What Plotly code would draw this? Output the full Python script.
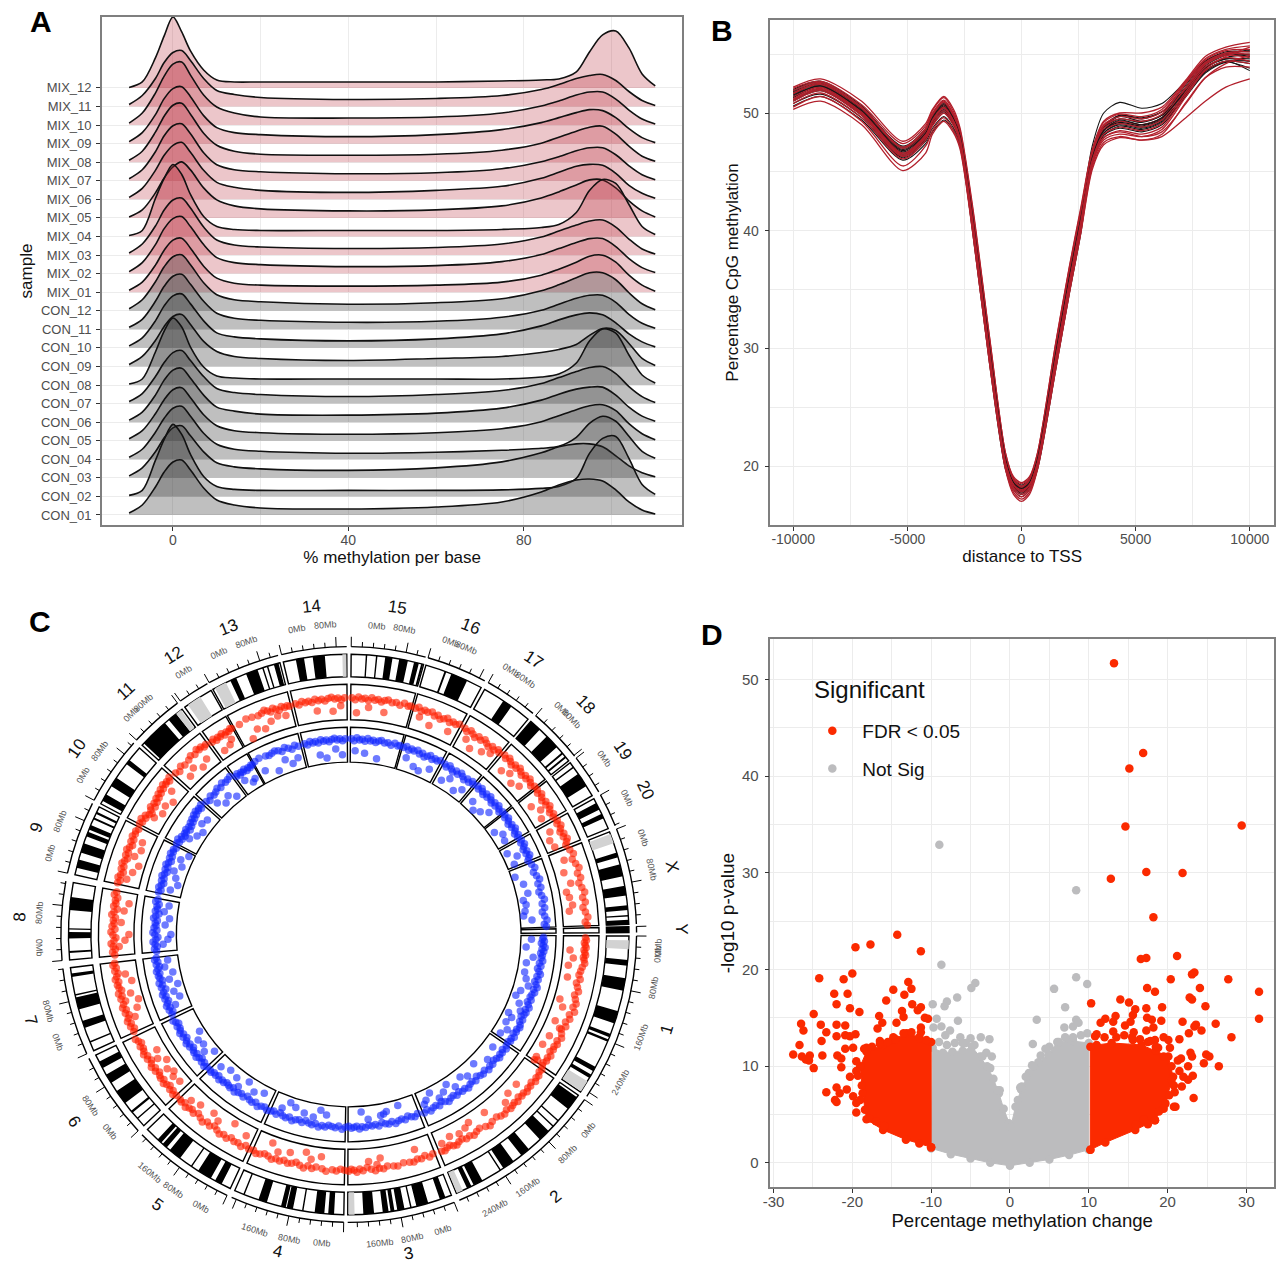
import math
import plotly.graph_objects as go

W, H = 1276, 1267
FONT = "Liberation Sans"

# ---------- Panel A: ridgeline ----------
samples = ["CON_01","CON_02","CON_03","CON_04","CON_05","CON_06","CON_07","CON_08","CON_09","CON_10","CON_11","CON_12",
           "MIX_01","MIX_02","MIX_03","MIX_04","MIX_05","MIX_06","MIX_07","MIX_08","MIX_09","MIX_10","MIX_11","MIX_12"]
ridge_x = [-10,-7,-4,-2,0,2,4,7,10,14,20,40,60,75,84,88,92,95,98,101,104,107,110]
ridge_density = [
 [2,10,28,43,53,55,45,27,15,10,7,6,8,13,23,30,35,36,34,25,13,5,1],
 [1,6,36,57,72,62,42,20,10,7,6,6,6,6.5,8,10,18,43,58,60,38,12,2],
 [2,10,26,40,50,52,42,26,15,11,9,7.5,10,16,25,31,34,34,31,22,12,5,1],
 [2,10,27,41,51,53,43,26,15,10,8,6,7,9,11,13,22,36,43,38,23,8,1],
 [2,10,27,41,51,53,43,26,15,10,8,6.5,8,12,19,25,31,35,36,30,17,7,1],
 [2,10,27,42,52,54,44,27,15,11,8,7,9,14,22,28,33,35,35,27,15,6,1],
 [2,10,27,41,51,53,43,27,15,11,9,7,9,13,20,26,32,36,37,30,17,7,1],
 [1,6,33,54,67,58,38,18,9,7,6,6,6,6,8,11,22,44,56,52,30,10,2],
 [2,10,26,40,50,52,42,25,15,10,8,6,8,10,14,17,22,31,38,36,23,8,1],
 [2,10,27,42,52,54,44,27,15,11,9,7,9,14,22,28,33,35,33,25,14,6,1],
 [2,10,28,43,53,55,45,28,16,11,9,7,8,12,19,25,31,34,34,27,15,6,1],
 [2,11,29,44,54,56,46,28,16,11,9,6.5,8,12,20,26,33,38,38,31,18,7,1],
 [2,10,27,42,52,54,44,26,14,9,7,6,7,10,17,23,30,36,37,30,17,7,1],
 [2,11,29,45,55,57,47,29,16,11,9,7,8,12,19,25,31,35,35,27,15,6,1],
 [2,11,29,45,55,57,47,28,15,10,8,6.5,7.5,11,18,24,30,34,35,28,16,6,1],
 [1,6,38,58,72,62,42,20,10,7,6,6,6,7,9,12,24,46,57,53,32,10,2],
 [1,8,25,40,51,56,48,30,18,12,9,7,8,12,20,26,33,38,38,30,17,7,1],
 [2,11,29,44,54,57,47,29,17,12,9,7,9,13,21,27,33,35,34,26,14,6,1],
 [2,11,29,45,55,57,47,28,16,11,9,7,8,12,19,24,30,33,33,26,15,6,1],
 [2,11,30,46,57,59,48,29,17,11,8,7,8,12,19,25,31,35,36,28,16,6,1],
 [2,11,29,45,55,57,47,28,16,11,9,7,9,14,21,26,31,34,33,26,15,6,1],
 [2,12,32,49,61,63,50,30,18,12,8,7,8,12,19,24,30,33,33,26,15,6,1],
 [2,11,28,44,54,56,46,28,16,12,9,7,8,11,17,22,28,31,32,26,15,6,1],
 [.5,6,30,52,71,56,37,18,8,6,6,6,6,7,8,9,16,36,53,57,40,14,2],
]
density_per_row = 18.57

# ---------- Panel B: TSS profile ----------
tss_x = [-10000,-8800,-7000,-5200,-4200,-3900,-3400,-3000,-2700,-2135,-1400,-700,-350,0,350,700,1500,2100,2600,3100,3600,4300,5270,6150,7200,8050,8950,10000]
tss_black = [
 [51.9,52.6,50.5,47.2,48.7,49.8,50.5,49.7,48.2,41.4,30.4,20.7,18.8,18.2,18.8,20.7,29.9,36.4,41.4,47.2,50,50.9,50.4,50.8,52.7,54.4,55.1,54.9],
 [51.7,52.5,50.3,46.9,48.4,49.4,50.3,49.4,47.9,41,30,20.5,18.6,18,18.6,20.5,29.5,36,41,46.3,48.7,49.7,49.3,49.8,52,53.9,54.6,54.4],
 [51.4,52.3,50.1,46.6,48.1,49.2,50.1,49.2,47.8,40.6,29.6,20.3,18.4,17.9,18.4,20.3,29.1,35.6,40.6,46.1,48.5,49.3,49,49.6,51.8,53.8,54.7,55],
 [51.1,52,49.9,46.4,47.9,49,50,49.1,47.7,40.4,29.4,20.1,18.3,17.8,18.3,20.1,28.9,35.4,40.4,46,48.3,49.1,48.8,49.4,51.6,53.6,54.4,54.2],
 [50.8,51.6,49.6,46.2,47.6,48.7,49.7,48.8,47.5,40.2,29.1,19.9,18.2,17.6,18.2,19.9,28.6,35.1,40.2,45.9,48.1,48.9,48.6,49.2,51.4,53.4,54.3,53.8],
 [50.6,51.4,49.4,46,47.4,48.4,49.4,48.6,47.3,39.8,28.7,19.7,18,17.4,18,19.7,28.2,34.7,39.8,46.4,48.8,49.8,49.6,50.1,52.2,54.2,55,55.3],
 [52,52.7,50.6,47.1,48.6,49.8,50.9,49.8,48.3,41.2,30.3,20.7,18.8,18.3,18.8,20.7,29.8,36.3,41.2,46.6,48.9,49.8,49.5,50.1,52.4,54.4,55.2,55.2],
 [51.6,52.4,50.2,46.7,48.2,49.5,50.6,49.5,48,41,30,20.5,18.6,18.1,18.6,20.5,29.5,36,41.1,46.4,48.7,49.5,49.2,49.8,52.2,54.2,55,54.8],
 [51.3,52.2,50,46.5,48,49.3,50.4,49.4,47.9,40.8,29.7,20.3,18.5,18,18.5,20.3,29.2,35.7,40.8,46.2,48.5,49.2,48.9,49.5,52,54,54.9,55.4],
 [51.8,52.5,50.4,47,48.5,49.7,50.8,49.7,48.2,41.2,30.3,20.7,18.9,18.4,18.9,20.7,29.8,36.3,41.2,46,48.3,49,48.7,49.3,51.7,53.6,54.4,53.6],
 [51,51.9,49.8,46.3,47.8,49.1,50.2,49.2,47.8,40.6,29.6,20.3,18.3,17.7,18.3,20.3,29.1,35.6,40.6,46.2,48.5,49.4,49,49.6,51.9,53.8,54.6,54.6],
 [51.5,52.3,50.2,46.8,48.3,49.6,50.7,49.6,48.1,41.1,30.1,20.6,18.6,18.1,18.6,20.6,29.6,36.1,41.1,45.8,48.1,48.7,48.4,49,51.5,53.5,54.4,54.4],
]
tss_red = [
 [52.2,52.9,51,47.6,49.1,50.3,51.4,50.4,48.8,42,31,21.1,19.1,18.6,19.1,21.1,30.5,37,42,46.9,49.3,50,50,50.5,52.8,54.8,55.6,56],
 [52.1,52.7,50.7,47.4,48.9,50.2,51.3,50.2,48.6,41.8,30.9,21.1,19,18.5,19,21.1,30.4,36.9,41.8,46.8,49.2,49.9,49.7,50.3,52.7,54.6,55.4,55.7],
 [51.9,52.6,50.5,47.1,48.7,50,51.1,50,48.4,41.6,30.7,20.9,18.9,18.3,18.9,20.9,30.2,36.7,41.6,46.6,49,49.7,49.5,50.1,52.6,54.5,55.3,55.4],
 [51.7,52.5,50.4,47,48.6,49.9,51,49.9,48.3,41.4,30.4,20.7,18.8,18.2,18.8,20.7,29.9,36.4,41.4,46.5,48.9,49.5,49.3,49.9,52.5,54.3,55.1,55.2],
 [51.6,52.4,50.2,46.8,48.4,49.8,50.9,49.8,48.2,41.1,30.1,20.6,18.6,18.1,18.6,20.6,29.6,36.1,41.1,46.4,48.7,49.3,49,49.6,52.2,54.2,55,55],
 [51.4,52.2,50.1,46.6,48.2,49.6,50.7,49.6,48,40.9,29.9,20.4,18.5,18,18.5,20.4,29.4,35.9,40.9,46.2,48.5,49.1,48.8,49.4,52,54.1,54.9,54.7],
 [51.2,52.1,50,46.5,48.1,49.4,50.5,49.4,47.9,40.6,29.6,20.3,18.4,17.8,18.4,20.3,29.1,35.6,40.6,46,48.2,48.8,48.5,49.1,51.8,53.9,54.7,54.4],
 [51,51.9,49.8,46.3,47.9,49.1,50.2,49.2,47.7,40.4,29.4,20.1,18.2,17.6,18.2,20.1,28.9,35.4,40.4,45.8,47.9,48.5,48.2,48.8,51.6,53.7,54.8,55.6],
 [50.8,51.7,49.6,46.1,47.7,48.9,50,49,47.5,40.2,29.1,19.9,18,17.4,18,19.9,28.6,35.1,40.2,45.6,47.7,48.2,48,48.6,51.4,53.6,54.4,54.2],
 [50.5,51.4,49.3,45.5,47.2,48.5,49.6,48.6,47.2,39.9,28.8,19.8,17.8,17.2,17.8,19.8,28.3,34.8,39.9,45.4,47.5,48,47.7,48.2,50.9,53,53.9,53.9],
 [50.3,51,49,45.1,46.6,48.2,49.3,48.4,47,39.8,28.7,19.7,17.6,17,17.6,19.7,28.2,34.7,39.8,45.2,47.3,47.9,47.7,48,49.6,51,52.2,52.9],
 [51.1,52,49.9,46.4,48,49.3,50.4,49.4,47.8,40.8,29.7,20.3,18.4,17.9,18.4,20.3,29.2,35.7,40.8,45.9,47.9,48.4,48,48.4,50.8,53,54.2,54.9],
]

# ---------- Panel C: circular genome plot (angles clockwise from east) ----------
chrom_names = ["1","2","3","4","5","6","7","8","9","10","11","12","13","14","15","16","17","18","19","20","X","Y"]
chrom_start = [0.3,35,68.5,91,115,137,155.5,174.8,192.3,207.8,222.5,234.2,241,256.5,270.5,286,299,310.5,322.2,331,338.5,358.4]
chrom_end = [34.2,67.4,90.2,114,135.9,154.5,173.2,190.7,207.1,221.7,233.5,240.6,255.8,269.6,285.5,298.2,309.8,321.7,330.3,337.8,357.9,359.6]
chrom_label_theta = [16.6,51.7,79.4,102.6,125.4,145.8,165,183,198.9,214.4,227.6,237.8,248.6,263.6,278.4,291.7,303.9,315.9,326.2,334,348.1,359]
chrom_label_r = [332,334,325,325,331,332,330,330,330,330,330,330,330,330,331,331,331,330,330,330,331,333]
black_start = [5.2,9,15.9,20.8,22,28.2,30,35.5,41.5,43,44.5,50,54,57.1,61.5,64,69.8,73.5,77,78.5,80.6,81.8,84.8,
               93,95,99.3,101.5,103,107,111.8,117,119.5,124,127,130.5,132,138.8,140.5,143,144.8,148,151.5,157.3,160.5,164.5,167.4,171.3,
               176.2,179.2,181,185,193.8,197,200.5,202,204.3,205.5,208.5,212,217.5,223,230,245,248.5,252,253,254.5,
               259.1,262.6,273.5,275.6,277.5,280.4,283.5,285,290,291.5,303.5,310.5,315,319.5,320.5,323.2,325,332,334.5,343,345.5,350,354,356,357,358.4]
black_end = [6.4,11.6,18.5,21.5,22.5,29.2,30.8,38.5,41.8,43.3,47,52,56.5,57.4,63.5,65,71,76,77.3,80,81.4,83,87,
             94.2,97,99.6,102.8,104,108.8,112.1,118.5,122.5,124.3,129.7,131.6,133,139.1,141,145,146,150,153,157.6,162,167,167.7,172,
             176.6,180.5,181.3,187.7,195.5,199,201.5,203,204.7,206,210,214,218.5,229,232,246.3,251,252.3,253.3,255.5,
             260.8,265.1,273.8,275.9,279,282.2,284.5,285.4,290.4,295,305.5,313,318,319.9,320.9,323.5,328,333.5,335.5,344,348,352,355,356.3,358,359.6]
gray_start = [1.2,31.6,66,88.8,232,235,241.5,268.7,339]
gray_end = [3,34,67.3,90,233.2,238,244,269.5,341]
axis_label_text = ["0Mb","0Mb","80Mb","160Mb","240Mb","0Mb","80Mb","160Mb","240Mb","0Mb","80Mb","160Mb","0Mb","80Mb","160Mb","0Mb","80Mb","160Mb",
                   "0Mb","80Mb","0Mb","80Mb","0Mb","80Mb","0Mb","80Mb","0Mb","80Mb","0Mb","80Mb","0Mb","0Mb","80Mb","0Mb","80Mb","0Mb","80Mb","0Mb","80Mb",
                   "0Mb","80Mb","0Mb","80Mb","0Mb","0Mb","0Mb","80Mb"]
axis_label_theta = [2.3,3.6,9.8,19.3,28.5,39.2,45,54.6,61.8,72.3,78.2,84.2,95,101,107.7,118.4,124.5,129.8,
                    140.4,146.4,159.6,165.6,177.5,184.1,195.3,201.4,211,216.4,225.4,228.4,237.8,245.3,250.7,260.3,265.7,275.2,280.3,289.3,292.4,
                    301.5,304.8,313.4,316,325.6,333.9,341.9,348]

red_theta = [.8,1.4,2,2.6,3.2,3.8,4.4,5,5.6,6.2,7,8,9,10,11,12,13,14,15,16,17,18,19,20,21,22,23,24,25,26,27,27.8,28.6,29.4,30.2,31,31.8,32.6,33.4,34.1,
 35,35.8,36.6,37.4,38.2,39,39.8,40.6,41.4,42.2,43,43.8,44.6,45.4,46.2,47,48,49,50,51,52.5,53.5,54.5,56,57,58,59,60,61,62,62.8,63.6,64.4,65.2,66,66.8,
 69,70,71,72,73,74,75,76.5,78,79,80.5,81.5,82.5,83.5,84.5,85.5,86.5,87.3,88,88.7,89.4,90,
 91,92,93,94,95.5,96.5,98,99,100,101,102,103,104,105,106,107,108,109,110,111,112,113,113.8,
 115,116,117,118,119,120,121,122,123,124,125,126,127,128,129,130,131,131.8,132.6,133.4,134.2,135,135.6,
 137,137.7,138.4,139.1,139.8,140.5,141.2,141.9,142.6,143.3,144,144.7,145.4,146.1,146.8,147.5,148.2,148.9,149.6,150.3,151,151.7,152.4,153.1,153.8,
 155.7,156.4,157.1,157.8,158.5,159.2,159.9,160.6,161.3,162,162.7,163.4,164.1,164.8,165.5,166.2,166.9,167.6,168.3,169,169.7,170.4,171.1,171.8,172.5,173,
 175,175.7,176.4,177.1,177.8,178.5,179.2,179.9,180.6,181.3,182,182.7,183.4,184.1,184.8,185.5,186.2,186.9,187.6,188.3,189,189.7,190.4,
 192.6,193.3,194,194.7,195.4,196.1,196.8,197.5,198.2,198.9,199.6,200.3,201,201.7,202.4,203.1,203.8,204.5,205.2,205.9,206.6,
 208,208.6,209.2,209.8,210.4,211,211.6,212.2,212.8,213.4,214,214.6,215.2,215.8,216.4,217,217.6,218.2,218.8,219.4,220,220.6,221.2,
 223,224,225,226,227.5,228.5,229.5,230.5,231,231.7,232.4,233,
 234.6,235.2,235.8,236.4,237,237.6,238.2,238.8,239.4,240,240.4,
 242.5,244.5,246,247.5,248.5,249.3,250,250.7,251.4,252.1,252.8,253.5,254.2,254.9,255.5,
 257,257.8,258.6,259.4,260.2,261,261.8,262.6,263.4,264.2,265,265.8,266.6,267.4,268.2,269,
 270.8,271.6,272.4,273.2,274,274.8,275.6,276.4,277.2,278,278.8,279.6,280.6,281.6,282.6,283.6,284.6,285.2,
 286.4,287.2,288,288.8,289.6,290.6,291.4,292.2,293,293.8,294.6,295.4,296.2,297,297.8,
 299.4,300.2,301,301.8,302.6,303.4,304.2,305,305.8,306.6,307.4,308.2,309,309.6,
 311,311.7,312.4,313.1,313.8,314.5,315.2,315.9,316.6,317.3,318,318.7,319.4,320.1,320.8,321.4,
 322.5,323.2,323.9,324.6,325.3,326,326.7,327.4,328.1,328.8,329.5,330.1,
 331.3,332,332.7,333.4,334.1,334.8,335.5,336.2,336.9,337.6,
 339,340.2,341.4,342.6,343.8,345,346.2,347.4,348.6,349.8,351,352.2,353.4,354.6,355.8,357,357.7,
 # inner scatter
 4,6,8,11,17,18.7,22.7,24,26.8,29.5,33,33.6,34,41.8,44.9,47,52.7,57.5,59,61,63.5,66,73,82,83,85,
 97,99.5,101,105,108,110,117,121,125,127,131,133.5,139,141,142,143.5,145.5,147,149,159,161,163,165,168,170,
 177,178.5,180,183,186,188,194,196,198,200,202,204,211,213,215,217,219,225,227,229,231,236,238,239,244,246,248,250,252,254,
 262,266,268,272,275,279,288,291,296,301,303,306,308,313,315,317,319,325,327,329,333,335,337,341,344,347,349,350.5,352.5,354]
red_r = [237,238,236,237,238,236,237,238,236,237,238,236,235,234,236,233,235,237,234,236,238,236,239,235,237,234,236,233,235,237,234,236,234,235,233,236,234,235,233,234,
 236,235,237,236,238,235,237,236,238,236,237,235,238,236,237,238,236,238,237,235,236,238,236,234,235,237,235,236,234,235,237,236,234,235,237,236,
 235,237,234,236,235,237,236,235,237,236,235,237,236,238,236,234,237,235,238,236,235,237,
 236,235,237,236,238,236,235,237,235,238,236,234,236,237,235,237,236,238,236,235,237,238,236,
 237,235,238,236,237,235,238,236,238,236,234,237,235,238,236,234,237,235,236,238,235,237,236,
 236,238,235,237,234,236,238,235,237,236,234,237,235,238,236,234,237,235,238,236,235,237,234,236,238,
 236,234,237,235,238,236,234,237,235,238,236,233,237,235,238,234,236,237,235,238,236,234,237,235,238,236,
 235,237,234,236,238,235,233,236,238,234,237,235,236,234,238,236,233,237,235,236,234,238,236,
 237,235,238,236,234,237,235,238,236,234,237,235,238,236,234,237,235,238,236,237,235,
 237,235,238,234,236,233,231,234,236,232,235,233,236,234,237,235,238,236,239,237,238,236,239,
 237,235,238,236,237,239,237,240,238,239,237,238,
 236,238,235,237,236,238,235,237,236,238,237,
 237,239,238,237,238,240,238,236,239,237,235,238,236,237,236,
 237,235,238,236,237,235,238,236,237,235,237,238,236,237,235,237,
 237,235,238,236,237,235,238,236,237,235,237,238,236,237,235,238,236,237,
 236,238,235,237,236,238,235,237,234,236,238,235,237,236,238,
 237,235,238,236,234,237,235,238,236,234,237,235,238,236,
 238,236,239,237,235,238,236,239,237,235,238,236,239,237,235,238,
 238,236,239,237,235,238,236,239,237,235,238,236,
 238,236,239,237,235,238,236,239,237,235,
 237,239,236,238,240,237,239,236,238,240,237,239,236,238,240,237,239,
 222,226,222,223,221,226,224,231,225,223,224,227,224,225,225,230,224,223,226,228,226,229,225,226,232,228,
 224,228,222,226,229,222,226,221,228,224,226,229,224,226,222,226,221,228,224,229,224,220,226,222,227,
 230,224,220,228,226,222,229,225,221,228,224,226,227,222,224,220,228,224,228,222,226,222,224,228,218,225,222,227,230,228,
 226,224,229,222,228,225,229,224,226,228,222,226,230,224,228,222,226,223,229,225,226,222,224,228,224,228,222,224,226,222]

blue_theta = [.8,1.4,2,2.6,3.2,3.8,4.4,5,5.6,6.2,7,7.8,8.6,9.4,10.2,11,11.8,12.6,13.4,14.2,15,15.8,16.6,17.4,18.2,19,19.8,20.6,21.4,22.2,23,23.8,24.6,25.4,26.2,27,27.8,28.6,29.4,30.2,31,31.8,32.6,33.4,34,
 35.2,36,36.8,37.6,38.4,39.2,40,41,42,43,44,45,46,47,48,49,50,51,52,53,54,55,56,57,58,59,60,61,62,63,64,65,66,67,
 69,70,71,72,73,74,75,76,77,78,79,80,81,82,83,84,85,86,86.8,87.6,88.4,89.2,90,
 91,92,93,94,95,96,97,98,99,100,101,102,103,104,105,106,107,108,109,110,111,112,113,113.8,
 115,116,117,118,119,120,121,122,123,124,125,126,127,127.8,128.6,129.4,130.2,131,131.8,132.6,133.4,134.2,135,135.6,
 137,137.7,138.4,139.1,139.8,140.5,141.2,141.9,142.6,143.3,144,144.7,145.4,146.1,146.8,147.5,148.2,148.9,149.6,150.3,151,151.7,152.4,153.1,153.8,
 155.7,156.4,157.1,157.8,158.5,159.2,159.9,160.6,161.3,162,162.7,163.4,164.1,164.8,165.5,166.2,166.9,167.6,168.3,169,169.7,170.4,171.1,171.8,172.5,173,
 175,175.7,176.4,177.1,177.8,178.5,179.2,179.9,180.6,181.3,182,182.7,183.4,184.1,184.8,185.5,186.2,186.9,187.6,188.3,189,189.7,190.4,
 192.6,193.3,194,194.7,195.4,196.1,196.8,197.5,198.2,198.9,199.6,200.3,201,201.7,202.4,203.1,203.8,204.5,205.2,205.9,206.6,
 208,208.6,209.2,209.8,210.4,211,211.6,212.2,212.8,213.4,214,214.6,215.2,215.8,216.4,217,217.6,218.2,218.8,219.4,220,220.6,221.2,
 223,224,225,226,227,228,229,230,231,232,233,
 234.6,235.2,235.8,236.4,237,237.6,238.2,238.8,239.4,240,240.4,
 241.5,243,245,246,247,248,249,250,251,252,253,254,255,
 257,257.8,258.6,259.4,260.2,261,261.8,262.6,263.4,264.2,265,265.8,266.6,267.4,268.2,269,
 270.8,271.6,272.4,273.2,274,274.8,275.6,276.4,277.2,278,278.8,279.6,280.6,281.6,282.6,283.6,284.6,285.2,
 286.4,287.2,288,288.8,289.6,290.6,291.4,292.2,293,293.8,294.6,295.4,296.2,297,297.8,
 299.4,300.2,301,301.8,302.6,303.4,304.2,305,305.8,306.6,307.4,308.2,309,309.6,
 311,311.7,312.4,313.1,313.8,314.5,315.2,315.9,316.6,317.3,318,318.7,319.4,320.1,320.8,321.4,
 322.5,323.2,323.9,324.6,325.3,326,326.7,327.4,328.1,328.8,329.5,330.1,
 331.3,332,332.7,333.4,334.1,334.8,335.5,336.2,336.9,337.6,
 339,340.2,341.4,342.6,343.8,345,346.2,347.4,348.6,349.8,351,352.2,353.4,354.6,355.8,357,357.7,
 # inner scatter
 1.5,4,7,9,12,14,16,18,20,22,24,26,27,29,31,33,38,42,46,50,52,55,57,59,61,63,65,66,74,78,79,80,84,86,
 97,99,101,104,107,109,111,118,121,124,126,128,131,134,139,141,143,145,147,158,160,162,164,166,168,170,172,
 177,178.5,180,183,185,187,189,194,196,198,200,202,204,206,211,213,215,217,219,225,227,229,231,236,238,239,243,247,250,252,254,
 261,263,266,268,272,275,279,288,291,293,296,301,303,306,308,313,315,317,319,325,327,329,333,335,337,341,344,347,349,350.5,352.5,354,355.5]
blue_r = [195,194,196,193,195,197,194,196,193,195,194,196,193,195,192,194,196,193,195,192,194,196,193,195,193,192,194,191,193,195,192,194,193,191,194,192,194,195,193,194,192,195,193,194,192,
 193,195,192,194,193,195,193,192,194,193,195,192,194,193,191,194,192,193,195,193,194,192,194,192,193,195,193,191,194,192,193,195,192,194,
 192,194,193,191,194,192,193,195,192,194,193,191,194,192,193,192,194,193,195,192,193,194,192,
 193,195,192,194,193,192,194,193,195,192,194,193,191,194,192,193,195,192,194,193,191,194,192,193,
 194,192,193,195,192,194,193,191,194,192,193,195,192,194,193,192,194,193,195,192,194,193,195,194,
 194,196,193,195,192,194,196,193,195,194,192,195,193,196,194,192,195,193,196,194,193,195,192,194,196,
 194,192,195,193,196,194,192,195,193,196,194,191,195,193,196,192,194,195,193,196,194,192,195,193,196,194,
 193,195,192,194,196,193,191,194,196,192,195,193,194,192,196,194,191,195,193,194,192,196,194,
 195,193,196,194,192,195,193,196,194,192,195,193,196,194,192,195,193,196,194,195,193,
 195,193,196,192,194,191,193,192,194,190,193,191,194,192,195,193,196,194,197,195,196,194,197,
 195,193,196,194,195,197,195,198,196,197,198,
 194,196,193,195,194,196,193,195,194,196,195,
 197,198,197,196,197,198,197,195,198,196,194,197,195,
 196,194,197,195,196,194,197,195,196,194,196,197,195,196,194,196,
 196,194,197,195,196,194,197,195,196,194,196,197,195,196,194,197,195,196,
 195,197,194,196,195,197,194,196,193,195,197,194,196,195,197,
 196,194,197,195,193,196,194,197,195,193,196,194,197,195,
 197,195,198,196,194,197,195,198,196,194,197,195,198,196,194,197,
 197,195,198,196,194,197,195,198,196,194,197,195,
 197,195,198,196,194,197,195,198,196,194,
 196,198,195,197,199,196,198,195,197,199,196,198,195,197,199,196,198,
 183,178,186,180,180,183,187,181,178,184,188,178,183,180,185,181,183,187,180,185,181,186,179,184,187,178,183,186,178,181,183,184,186,178,
 182,178,186,184,181,178,186,180,184,178,188,182,180,184,178,186,182,184,178,187,180,184,178,185,180,187,183,
 186,181,178,184,180,186,182,184,178,182,186,180,184,178,186,181,178,184,182,186,180,184,178,186,180,182,184,178,186,180,184,
 182,178,186,180,184,182,178,186,180,178,184,180,186,178,184,182,176,180,186,178,184,182,178,186,180,176,182,184,178,180,178,176,184]

# ---------- Panel D: volcano ----------
grey_env_x = [-10,-9.8,-8.5,-7.3,-6,-4.8,-3.8,-2.9,-2.1,-1.4,-.8,-.13,.1,.7,1.4,2.4,3.6,4.9,6,8,10,10,7.5,5,2.5,0,-2.5,-5,-7.5,-10]
grey_env_y = [1.5,11.9,11.4,11.5,11.6,12,11,10,8.7,7.2,5.6,4.1,3.7,5.8,7.6,9.3,10.4,11.2,12.5,12.6,12.4,1.35,.8,.35,0,-.3,0,.45,.9,1.5]
red_left_x = [-10,-10,-11.5,-13.1,-14.7,-16.1,-18.2,-19,-18.7,-18.2,-16.1,-13.2,-11.5,-10]
red_left_y = [1.6,12.5,13,13.4,12.8,12.2,11.5,10,7.2,4.5,3.4,2.4,2,1.6]
red_right_x = [10.2,12.1,15.9,18.4,19.7,20.7,20.1,18.5,16.7,12.9,11,10.2,10.2]
red_right_y = [1.35,2.1,3.4,4.4,6.2,8.9,11,11.6,12.2,12.4,12.2,12,1.35]
sig_x = [13.2,16.9,15.15,14.65,29.4,17.3,21.9,12.8,18.2,
 -14.3,-17.7,-19.6,-11.3,-20,-24.2,-21.1,-12.9,-12.5,-14.8,-22.3,-20.6,-13.4,-15.7,-22,-12.4,-20.3,-11.3,-11.7,-13.7,-19.1,-24.9,-16.6,-13.5,-10.8,-10.4,-16.2,-14.4,-26.5,-24,-22,-20.9,-11.3,-16.8,-26.2,-23.3,-11.3,-19.6,-22,-20.9,-20.3,-14.8,-23.9,-16.5,-26.7,-19.9,-20.9,-18.2,-27.5,-23.8,-26.4,-25.4,-21.9,-25.9,-25.5,-21.4,-24.9,-21.4,-19.5,-20.3,-23.3,-22,-21.6,-22.2,-22,-20.7,-19.5,-19.5,-19.9,
 21.2,16.6,17.3,23.1,23.4,20.4,27.7,17.4,24.1,18.4,31.6,22.8,23.1,14,15.1,10.3,24.8,19.3,17.3,15.9,13.4,15.6,17.4,18,31.6,12.1,19.2,21.9,26.1,11.5,13.1,15.3,14.6,23.6,23.4,18.2,17.3,24.3,13.1,15.7,22.7,28.1,10.8,19.5,21.5,17.8,18.4,20.1,15.6,20.3,18.8,22.9,23.1,24.9,25.3,21.7,24.6,26.5,21.3,22.6,23.2,22.6,21.8,20.9,23.3,21,20.8,19.7,18.4,17.5,21.5,20.5,22,
 -18.5,-17.5,-16.5,-15.5,-14.5,-13.5,-12.5,-11.5,-10.6,-19.5,-19.3,-18.8,-19,-18.4,-17.8,-17,-15.9,13.5,14.5,15.5,11,12,16.5,17.5,18.5,19.5,20.5,20.8,20.2,19.5,18.9,17,16]
sig_y = [51.7,42.4,40.8,34.8,34.9,30.1,30,29.4,25.4,
 23.6,22.6,22.3,21.9,19.6,19.1,19,18.7,18,17.9,17.5,17.5,17.4,16.8,16.4,16.4,16,16.1,15.8,15.7,15.6,15.4,15.2,15.1,15,14.9,14.5,14.5,14.4,14.3,14.3,14.2,14,13.9,13.7,13.5,13.5,13.3,13.1,13.2,13.1,13,12.6,12.6,12.2,11.9,11.8,11.9,11.2,11.1,11,11.1,11.1,10.7,10.6,10.8,9.8,9.9,9.5,8.9,7.3,7.8,7.2,6.5,6.3,7.6,6.2,5.2,6.9,
 21.4,21.1,21.2,19.5,19.7,19,19,18.1,18.1,17.7,17.7,17.1,16.9,16.9,16.6,16.5,16.2,16.1,16,15.9,15.2,15.3,15,14.8,14.9,14.9,14.7,14.6,14.4,14.5,14.6,14.6,14.2,14.3,14.1,14,13.7,13.7,13.6,13.5,13.4,13,13.1,13,12.8,12.6,12.7,12.7,12.7,11.9,11.9,11.4,11,11.2,11,10.8,10.3,10,10.6,10,9,8.6,7.9,7.3,6.7,5.8,5.8,6.1,4.4,4,9.5,8.6,8.9,
 11.8,12,12.3,12.5,12.8,13.4,13.5,12.9,12.7,10.5,9,8,6.5,5.5,4.6,4.3,3.8,13,13.2,13,13.3,13,12.8,12.5,12,11,10,8,7,5.6,5.3,4.5,4]
ns_x = [-8.96,8.4,-8.7,-4.9,-4.4,-6.7,-8,-8.3,-9.8,-9.3,-6.6,-9.7,-8.7,-7.6,-6.3,-8.2,-3.7,-2.6,-5,-5.6,-3,-2.3,-1.6,1.5,2.1,
        8.4,9.8,5.6,7,8.4,3.4,8.7,8,6.9,9.8,2.9,6.2,7.7,3.9,2.8,2,1.3,-1.3,
        -9,-8,-7,-6,-4.5,-3.5,-2.5,7,8,9,5,4.5,3,1]
ns_y = [32.9,28.2,20.5,18.1,18.6,17.1,16.7,16.2,16.4,14.9,14.7,14,14.1,13.7,13,13.2,13,12.8,12.9,12.4,11.4,11,7.5,7.9,8.9,
        19.2,18.5,18,16.1,14.8,14.8,14.5,14.1,14,13.4,12.3,12.5,12.7,11.1,10.1,8.9,7.8,7.5,
        12.5,12.2,12.4,12.4,12.2,11,9.8,13,13,13.2,12,11.8,10,6.5]

# ---------- layout helpers ----------
# The page render offsets and slightly squeezes x; positions below are given in target pixels.
def fx(px): return min(1.0, max(0.0, (px - 7.0) / 0.993 / W))
def px_x(a, b): return [fx(a), fx(b)]
def px_y(top, bottom): return [1 - bottom / H, 1 - top / H]

GRID = "#ececec"
TICK = "#4d4d4d"
BORDER = "#7f7f7f"
def axis(**kw):
    d = dict(showline=True, linecolor=BORDER, linewidth=1.5, mirror=True, zeroline=False, showgrid=True, gridcolor=GRID, gridwidth=1.3,
             ticks="outside", ticklen=4, tickcolor="#333333", tickfont=dict(family=FONT, size=14, color=TICK),
             title_font=dict(family=FONT, size=17, color="#111111"))
    d.update(kw)
    return d
def minor(step):
    return dict(dtick=step, tick0=0, showgrid=True, gridcolor=GRID, gridwidth=1, ticks="")

fig = go.Figure()

# Panel A
for i in range(len(samples) - 1, -1, -1):
    col = "rgba(185,45,60,0.27)" if samples[i].startswith("MIX") else "rgba(50,50,50,0.31)"
    base = i + 1
    fig.add_trace(go.Scatter(x=ridge_x, y=[base] * len(ridge_x), mode="lines", line=dict(width=0), showlegend=False, hoverinfo="skip", xaxis="x", yaxis="y"))
    fig.add_trace(go.Scatter(x=ridge_x, y=[base + d / density_per_row for d in ridge_density[i]], mode="lines", fill="tonexty", fillcolor=col,
                             line=dict(color="#111111", width=1.6, shape="spline", smoothing=0.9), showlegend=False, name=samples[i], xaxis="x", yaxis="y"))

# Panel B
def tss_line(row, color, width):
    fig.add_trace(go.Scatter(x=tss_x, y=row, mode="lines", line=dict(color=color, width=width, shape="spline", smoothing=0.8), showlegend=False, xaxis="x2", yaxis="y2"))
for row in tss_black[:10]:
    tss_line(row, "#151515", 1.1)
for row in tss_red[:6]:
    tss_line(row, "#B2202C", 1.3)
for row in tss_black[10:]:
    tss_line(row, "#151515", 1.1)
for row in tss_red[6:]:
    tss_line(row, "#B2202C", 1.3)

# Panel C
def bars(starts, ends, r0, r1, fill, line_w=0):
    return go.Barpolar(theta=[(s + e) / 2 for s, e in zip(starts, ends)], width=[e - s for s, e in zip(starts, ends)],
                       base=[r0] * len(starts), r=[r1 - r0] * len(starts),
                       marker=dict(color=fill, line=dict(color="black", width=line_w)), showlegend=False, hoverinfo="skip", subplot="polar")

TRACKS = [(172.5, 207.5), (215, 250.5), (258, 280.5)]
for r0, r1 in TRACKS:
    fig.add_trace(bars(chrom_start, chrom_end, r0, r1, "rgba(255,255,255,0)", 1.4))
fig.add_trace(bars(black_start, black_end, 258, 280.5, "black"))
fig.add_trace(bars(gray_start, gray_end, 258, 280.5, "#d2d2d2"))
fig.add_trace(bars(chrom_start, chrom_end, 287.4, 288.8, "black"))

tick_t, tick_r = [], []
for s, e in zip(chrom_start, chrom_end):
    k, t = 0, s
    while t <= e + 0.01:
        tick_t += [t, t, None]
        tick_r += [288, 298 if k % 5 == 0 else 293, None]
        k += 1
        t = s + k * 2.2
fig.add_trace(go.Scatterpolar(theta=tick_t, r=tick_r, mode="lines", line=dict(color="black", width=1), showlegend=False, hoverinfo="skip", subplot="polar"))
fig.add_trace(go.Scatterpolar(theta=red_theta, r=red_r, mode="markers", marker=dict(color="rgba(255,30,0,0.62)", size=7.5), showlegend=False, subplot="polar"))
fig.add_trace(go.Scatterpolar(theta=blue_theta, r=blue_r, mode="markers", marker=dict(color="rgba(20,40,255,0.62)", size=7.5), showlegend=False, subplot="polar"))

# Panel D
fig.add_trace(go.Scatter(x=grey_env_x, y=grey_env_y, mode="lines+markers", fill="toself", fillcolor="#bcbcbe", line=dict(color="#bcbcbe", width=1),
                         marker=dict(color="#bcbcbe", size=8.5), showlegend=False, hoverinfo="skip", xaxis="x3", yaxis="y3"))
fig.add_trace(go.Scatter(x=ns_x, y=ns_y, mode="markers", marker=dict(color="#bcbcbe", size=8.5), name="Not Sig", legendgroup="b", legendrank=2, xaxis="x3", yaxis="y3"))
for ex, ey in ((red_left_x, red_left_y), (red_right_x, red_right_y)):
    fig.add_trace(go.Scatter(x=ex, y=ey, mode="lines+markers", fill="toself", fillcolor="#fb2a00", line=dict(color="#fb2a00", width=1),
                             marker=dict(color="#fb2a00", size=8.5), showlegend=False, hoverinfo="skip", xaxis="x3", yaxis="y3"))
fig.add_trace(go.Scatter(x=sig_x, y=sig_y, mode="markers", marker=dict(color="#fb2a00", size=8.5), name="FDR < 0.05", legendgroup="a", legendrank=1, xaxis="x3", yaxis="y3"))

# Text placed around the circle
CX, CY = 348.0, 934.5
def polar_to_paper(theta, r):
    a = math.radians(theta)
    return fx(CX + r * math.cos(a)), 1 - (CY + r * math.sin(a)) / H
def rot(theta):
    return theta - 90 if theta < 180 else theta + 90 - 360

ann = []
for txt, x, y in (("A", 40, 22), ("B", 722, 30), ("C", 39, 621), ("D", 712, 634)):
    ann.append(dict(text=f"<b>{txt}</b>", x=fx(x), y=1 - y / H, xref="paper", yref="paper", showarrow=False, xanchor="center", yanchor="middle",
                    font=dict(family=FONT, size=30, color="black")))
for name, th, r in zip(chrom_names, chrom_label_theta, chrom_label_r):
    x, y = polar_to_paper(th, r)
    ann.append(dict(text=name, x=x, y=y, xref="paper", yref="paper", showarrow=False, textangle=rot(th), xanchor="center", yanchor="middle",
                    font=dict(family=FONT, size=17, color="#111111")))
for lab, th in zip(axis_label_text, axis_label_theta):
    x, y = polar_to_paper(th, 310)
    ann.append(dict(text=lab, x=x, y=y, xref="paper", yref="paper", showarrow=False, textangle=rot(th), xanchor="center", yanchor="middle",
                    font=dict(family=FONT, size=9, color="#555555")))
ann.append(dict(text="Significant", x=fx(812), y=1 - 689 / H, xref="paper", yref="paper", showarrow=False, xanchor="left", yanchor="middle",
                font=dict(family=FONT, size=24, color="#111111")))

legend_box = dict(type="rect", xref="paper", yref="paper", x0=fx(795), x1=fx(974), y0=1 - 793 / H, y1=1 - 662 / H,
                  fillcolor="white", line=dict(width=0), layer="below")

fig.update_layout(
    width=W, height=H, margin=dict(l=0, r=0, t=0, b=0), autosize=False, paper_bgcolor="white", plot_bgcolor="white",
    font=dict(family=FONT), shapes=[legend_box],
    xaxis=axis(domain=px_x(101, 682), range=[-16.2, 116.2], tickvals=[0, 40, 80], minor=minor(20), ticklabelstandoff=-3,
               title=dict(text="% methylation per base", standoff=3), anchor="y"),
    yaxis=axis(domain=px_y(17, 525), range=[0.46, 27.82], tickvals=list(range(1, 25)), ticktext=samples, ticklabelstandoff=2, tickfont=dict(family=FONT, size=13, color=TICK),
               title=dict(text="sample", standoff=4), anchor="x"),
    xaxis2=axis(domain=px_x(770, 1276), range=[-11000, 11060], tickvals=[-10000, -5000, 0, 5000, 10000], ticktext=["-10000", "-5000", "0", "5000", "10000"], minor=minor(2500), ticklabelstandoff=-4,
                title=dict(text="distance to TSS", standoff=3), anchor="y2"),
    yaxis2=axis(domain=px_y(20, 525), range=[15.0, 57.9], tickvals=[20, 30, 40, 50], minor=minor(5), ticklabelstandoff=3,
                title=dict(text="Percentage CpG methylation", standoff=0), anchor="x2"),
    xaxis3=axis(domain=px_x(770, 1276), range=[-30.4, 33.5], tickvals=[-30, -20, -10, 0, 10, 20, 30], ticktext=["-30", "-20", "-10", "0", "10", "20", "30"], minor=minor(5), ticklabelstandoff=-4,
                tickfont=dict(family=FONT, size=15, color=TICK), title=dict(text="Percentage methylation change", standoff=3, font=dict(family=FONT, size=18.6, color="#111111")), anchor="y3"),
    yaxis3=axis(domain=px_y(639, 1187), range=[-2.5, 54.2], tickvals=[0, 10, 20, 30, 40, 50], minor=minor(5), ticklabelstandoff=3,
                tickfont=dict(family=FONT, size=15, color=TICK), title=dict(text="-log10 p-value", standoff=2, font=dict(family=FONT, size=19, color="#111111")), anchor="x3"),
    polar=dict(domain=dict(x=[fx(48), fx(648)], y=[1 - 1234.5 / H, 1 - 634.5 / H]), bgcolor="rgba(0,0,0,0)", barmode="overlay",
               radialaxis=dict(visible=False, range=[0, 300]), angularaxis=dict(visible=False, rotation=0, direction="clockwise")),
    legend=dict(x=fx(802), y=1 - 712 / H, xanchor="left", yanchor="top", bgcolor="rgba(0,0,0,0)", borderwidth=0, traceorder="grouped", tracegroupgap=10,
                font=dict(family=FONT, size=19, color="#111111"), itemwidth=50),
    annotations=ann,
)
fig.write_html("out.html", config={"displayModeBar": False},
               post_script="document.documentElement.style.cssText='margin:0;padding:0;';document.body.style.cssText='margin:0;padding:0;';")
